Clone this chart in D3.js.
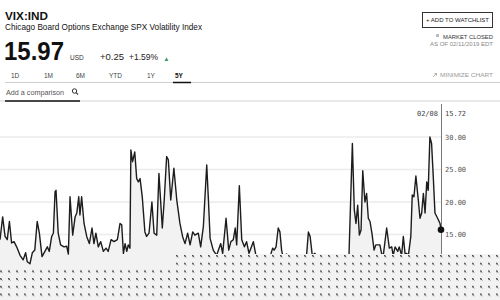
<!DOCTYPE html>
<html><head><meta charset="utf-8">
<script src="https://cdn.jsdelivr.net/npm/d3@7"></script>
<style>html,body{margin:0;padding:0;background:#fff;overflow:hidden}svg{display:block}</style>
</head><body>
<script>
// ---------- data ----------
const dates = ["2014-02-08","2014-02-19","2014-03-01","2014-03-10","2014-03-19","2014-03-28","2014-04-07","2014-04-18","2014-05-02","2014-05-15","2014-05-25","2014-06-01","2014-06-12","2014-06-22","2014-07-02","2014-07-12","2014-07-21","2014-08-01","2014-08-13","2014-08-23","2014-08-31","2014-09-10","2014-09-17","2014-09-24","2014-09-28","2014-10-07","2014-10-17","2014-10-31","2014-11-11","2014-11-18","2014-11-25","2014-12-06","2014-12-16","2014-12-23","2014-12-31","2015-01-05","2015-01-12","2015-01-22","2015-02-02","2015-02-13","2015-02-24","2015-03-04","2015-03-12","2015-03-22","2015-04-01","2015-04-12","2015-04-23","2015-05-02","2015-05-14","2015-05-26","2015-06-09","2015-06-20","2015-06-27","2015-07-04","2015-07-11","2015-07-18","2015-07-24","2015-07-31","2015-08-04","2015-08-11","2015-08-20","2015-08-28","2015-09-04","2015-09-11","2015-09-20","2015-10-01","2015-10-08","2015-10-18","2015-10-30","2015-11-08","2015-11-19","2015-11-28","2015-12-12","2015-12-20","2015-12-30","2016-01-06","2016-01-16","2016-01-29","2016-02-10","2016-02-23","2016-03-05","2016-03-15","2016-03-26","2016-04-05","2016-04-16","2016-04-25","2016-05-09","2016-05-19","2016-05-30","2016-06-13","2016-06-20","2016-06-27","2016-07-10","2016-07-24","2016-08-10","2016-08-18","2016-09-01","2016-09-12","2016-09-21","2016-10-01","2016-10-09","2016-10-15","2016-10-26","2016-11-05","2016-11-16","2016-11-25","2016-12-05","2016-12-23","2017-01-03","2017-01-20","2017-02-05","2017-02-22","2017-03-13","2017-03-19","2017-03-27","2017-04-05","2017-04-12","2017-04-19","2017-04-26","2017-05-10","2017-05-20","2017-06-01","2017-06-18","2017-07-04","2017-07-17","2017-08-01","2017-08-08","2017-08-15","2017-08-24","2017-09-04","2017-09-21","2017-10-07","2017-10-24","2017-11-10","2017-11-26","2017-12-13","2017-12-29","2018-01-11","2018-01-23","2018-02-06","2018-02-14","2018-02-21","2018-02-28","2018-03-07","2018-03-14","2018-03-21","2018-03-30","2018-04-06","2018-04-13","2018-04-20","2018-04-28","2018-05-07","2018-05-14","2018-05-22","2018-05-31","2018-06-07","2018-06-14","2018-06-28","2018-07-09","2018-07-19","2018-07-25","2018-08-02","2018-08-13","2018-08-19","2018-08-29","2018-09-05","2018-09-12","2018-09-19","2018-09-26","2018-10-06","2018-10-12","2018-10-19","2018-10-27","2018-11-06","2018-11-13","2018-11-20","2018-11-27","2018-12-04","2018-12-11","2018-12-17","2018-12-24","2018-12-31","2019-01-07","2019-01-14","2019-01-25","2019-02-04","2019-02-08"];
const values = [14.2,17.7,14.7,14.2,17.0,13.7,13.9,13.1,11.8,11.1,12.2,10.8,10.5,12.2,12.6,17.0,15.2,11.6,12.4,13.1,12.4,14.7,15.2,21.6,21.8,15.2,13.4,13.1,13.2,12.0,20.8,14.9,17.7,18.3,20.8,18.0,20.8,16.7,14.7,13.6,16.0,13.6,15.2,13.1,13.9,12.4,12.9,12.4,14.2,13.9,14.2,16.7,16.5,12.1,13.6,12.4,13.4,12.9,28.0,26.2,27.7,23.6,23.1,23.6,20.8,15.4,14.7,15.2,20.0,15.2,14.9,24.4,16.0,20.3,27.0,26.5,20.3,25.2,20.3,16.7,14.7,13.6,15.2,13.4,15.4,14.9,15.2,13.1,16.2,25.7,20.3,14.4,12.6,11.8,13.6,12.1,17.5,12.6,13.9,14.2,16.0,13.4,22.5,14.2,13.1,13.9,12.1,13.9,11.7,10.8,11.4,10.6,12.9,12.6,13.1,16.0,15.4,12.6,11.4,12.0,10.5,11.1,10.6,11.1,10.3,12.1,15.4,14.7,11.8,12.1,10.8,10.3,10.6,11.2,10.8,11.5,10.5,10.8,11.8,29.0,18.8,16.7,19.5,14.9,15.7,24.8,20.0,21.3,17.5,17.0,15.2,12.6,13.4,13.4,13.4,12.1,11.8,16.0,12.9,13.1,11.8,13.1,12.4,13.1,11.8,14.7,12.1,12.1,11.8,14.7,21.1,20.8,24.0,20.3,17.5,18.3,21.3,18.3,23.1,21.8,30.0,29.0,23.9,18.3,17.5,16.7,15.72];
const yTicks = [15, 20, 25, 30];
const tabs = ["1D","1M","6M","YTD","1Y","5Y"];
const domainDates = ["2014-02-08","2019-02-08"];
const lastLabelDate = "02/08";
const lastLabelValue = "15.72";

// ---------- setup ----------
const W = 500, H = 300;
const parse = d3.timeParse("%Y-%m-%d");
const data = dates.map((d,i)=>({date:parse(d), v:values[i]}));
const svg = d3.select("body").append("svg").attr("width",W).attr("height",H);
const sans = "'Liberation Sans', Arial, sans-serif";
const mono = "'DejaVu Sans Mono', 'Liberation Mono', monospace";

const defs = svg.append("defs");
const pat = defs.append("pattern").attr("id","dots").attr("patternUnits","userSpaceOnUse")
  .attr("x",0).attr("y",255).attr("width",8).attr("height",7.7);
pat.append("rect").attr("width",8).attr("height",7.7).attr("fill","#f2f2f2");
pat.append("rect").attr("x",0).attr("y",0).attr("width",1).attr("height",1).attr("fill","#444");
pat.append("rect").attr("x",1).attr("y",1).attr("width",1).attr("height",1).attr("fill","#444");
pat.append("rect").attr("x",1).attr("y",0).attr("width",1).attr("height",1).attr("fill","#999");
pat.append("rect").attr("x",0).attr("y",1).attr("width",1).attr("height",1).attr("fill","#999");
pat.append("rect").attr("x",2).attr("y",2).attr("width",1).attr("height",1).attr("fill","#bbb");

// ---------- header ----------
const hdr = svg.append("g").attr("font-family", sans);
hdr.append("text").attr("x",5).attr("y",20).attr("font-size",10.5).attr("font-weight","bold").attr("fill","#111")
  .attr("textLength",43).attr("lengthAdjust","spacingAndGlyphs").text("VIX:IND");
hdr.append("text").attr("x",5).attr("y",29.5).attr("font-size",9).attr("fill","#111")
  .attr("textLength",197).attr("lengthAdjust","spacingAndGlyphs").text("Chicago Board Options Exchange SPX Volatility Index");
hdr.append("text").attr("x",4).attr("y",60).attr("font-size",25).attr("font-weight","bold").attr("fill","#111")
  .attr("textLength",60).attr("lengthAdjust","spacingAndGlyphs").text("15.97");
hdr.append("text").attr("x",70).attr("y",60).attr("font-size",6.5).attr("fill","#333").text("USD");
hdr.append("text").attr("x",100).attr("y",60).attr("font-size",9.5).attr("fill","#222")
  .attr("textLength",24).attr("lengthAdjust","spacingAndGlyphs").text("+0.25");
hdr.append("text").attr("x",129).attr("y",60).attr("font-size",9.5).attr("fill","#222")
  .attr("textLength",29).attr("lengthAdjust","spacingAndGlyphs").text("+1.59%");
hdr.append("path").attr("d","M164.5,61 L168.5,61 L166.5,57.5 Z").attr("fill","#3c9a6a");

const tabX = [11,44,76,109,147,175];
tabs.forEach((t,i)=>{
  hdr.append("text").attr("x",tabX[i]).attr("y",78).attr("font-size",6.5)
    .attr("font-weight", t==="5Y"?"bold":"normal").attr("fill", t==="5Y"?"#111":"#444").text(t);
});
hdr.append("line").attr("x1",5).attr("x2",W).attr("y1",82.5).attr("y2",82.5).attr("stroke","#cfcfcf").attr("stroke-width",1);
hdr.append("line").attr("x1",173).attr("x2",191).attr("y1",82.5).attr("y2",82.5).attr("stroke","#111").attr("stroke-width",1.5);

hdr.append("text").attr("x",6).attr("y",95).attr("font-size",7).attr("fill","#555")
  .attr("textLength",58).attr("lengthAdjust","spacingAndGlyphs").text("Add a comparison");
hdr.append("circle").attr("cx",74.5).attr("cy",91).attr("r",2.2).attr("fill","none").attr("stroke","#333").attr("stroke-width",1);
hdr.append("line").attr("x1",76.1).attr("y1",92.6).attr("x2",78).attr("y2",94.5).attr("stroke","#333").attr("stroke-width",1.1);
hdr.append("line").attr("x1",0).attr("x2",W).attr("y1",101).attr("y2",101).attr("stroke","#d3d3d3").attr("stroke-width",1);
hdr.append("line").attr("x1",5).attr("x2",80).attr("y1",101).attr("y2",101).attr("stroke","#111").attr("stroke-width",1.5);

hdr.append("rect").attr("x",422.5).attr("y",12.5).attr("width",70).attr("height",15).attr("fill","#fff").attr("stroke","#333").attr("stroke-width",1);
hdr.append("text").attr("x",457.5).attr("y",22.3).attr("text-anchor","middle").attr("font-size",5.8).attr("fill","#222")
  .attr("textLength",63).attr("lengthAdjust","spacingAndGlyphs").text("+ ADD TO WATCHLIST");
hdr.append("rect").attr("x",436).attr("y",34).attr("width",3).attr("height",3).attr("fill","#bbb");
hdr.append("text").attr("x",493).attr("y",38.5).attr("text-anchor","end").attr("font-size",5.8).attr("fill","#333")
  .attr("textLength",50).attr("lengthAdjust","spacingAndGlyphs").text("MARKET CLOSED");
hdr.append("text").attr("x",493).attr("y",45.5).attr("text-anchor","end").attr("font-size",5.5).attr("fill","#888")
  .attr("textLength",63).attr("lengthAdjust","spacingAndGlyphs").text("AS OF 02/11/2019 EDT");
hdr.append("path").attr("d","M433,77 L436.5,73.5 M434.5,73.5 L436.5,73.5 L436.5,75.5").attr("stroke","#999").attr("stroke-width",0.8).attr("fill","none");
hdr.append("text").attr("x",493).attr("y",76.5).attr("text-anchor","end").attr("font-size",5.5).attr("fill","#999")
  .attr("textLength",53).attr("lengthAdjust","spacingAndGlyphs").text("MINIMIZE CHART");

// ---------- chart ----------
const plotRight = 441;
const x = d3.scaleTime().domain(domainDates.map(parse)).range([0, plotRight]);
const y = d3.scaleLinear().domain([15, 30]).range([234.5, 137]);

const grid = svg.append("g");
yTicks.forEach(t=>{
  grid.append("line").attr("x1",0).attr("x2",plotRight).attr("y1",y(t)).attr("y2",y(t))
    .attr("stroke","#ebebeb").attr("stroke-width",1.5);
});

const area = d3.area().x(d=>x(d.date)).y0(H).y1(d=>y(d.v));
const line = d3.line().x(d=>x(d.date)).y(d=>y(d.v));
svg.append("path").datum(data).attr("d",area).attr("fill","#f2f2f2");
svg.append("path").datum(data).attr("d",line).attr("fill","none").attr("stroke","#1c1c1c").attr("stroke-width",1.4).attr("stroke-linejoin","round");

// vertical cursor line
svg.append("line").attr("x1",plotRight+0.5).attr("x2",plotRight+0.5).attr("y1",104).attr("y2",256).attr("stroke","#555").attr("stroke-width",0.8);

// y axis labels (right side)
const yAxis = d3.axisRight(y).tickValues(yTicks).tickSize(0).tickPadding(0).tickFormat(d3.format(".2f"));
const ya = svg.append("g").attr("transform",`translate(${plotRight+4},0)`).call(yAxis);
ya.select(".domain").remove();
ya.selectAll("text").attr("font-family",mono).attr("font-size",7).attr("fill","#555");

// last point
const last = data[data.length-1];
svg.append("circle").attr("cx",x(last.date)).attr("cy",y(last.v)).attr("r",3.3).attr("fill","#111");
svg.append("text").attr("x",plotRight-3).attr("y",115.5).attr("text-anchor","end").attr("font-family",mono).attr("font-size",7).attr("fill","#444").text(lastLabelDate);
svg.append("text").attr("x",plotRight+4).attr("y",115.5).attr("font-family",mono).attr("font-size",7).attr("fill","#444").text(lastLabelValue);

// dotted overlay regions
svg.append("rect").attr("x",0).attr("y",268).attr("width",176).attr("height",H-268).attr("fill","url(#dots)");
svg.append("rect").attr("x",176).attr("y",254).attr("width",W-176).attr("height",H-254).attr("fill","url(#dots)");
</script>
</body></html>
